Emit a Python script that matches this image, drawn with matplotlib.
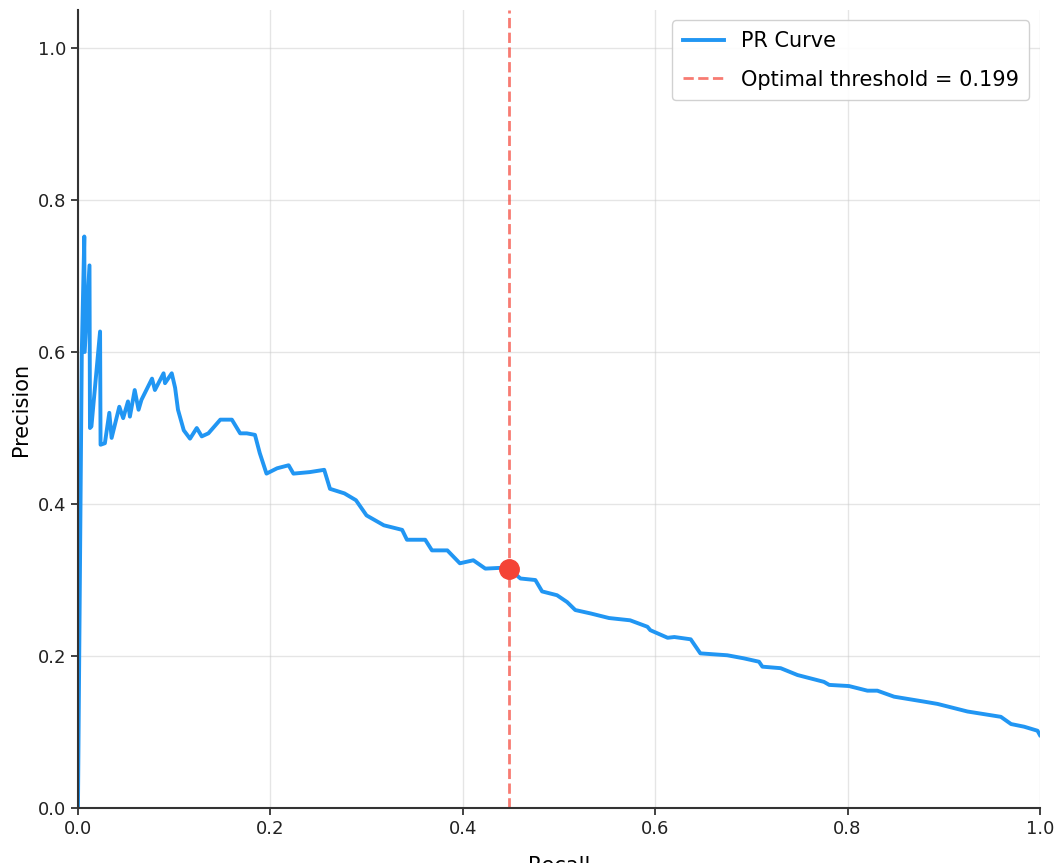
import matplotlib
matplotlib.use("Agg")
import matplotlib.pyplot as plt

# PR curve (recall, precision)
recall = [0.0, 0.003, 0.004, 0.0066, 0.007, 0.012, 0.0125, 0.014, 0.023, 0.0235,
          0.028, 0.0326, 0.035, 0.043, 0.047, 0.052, 0.054, 0.059, 0.063, 0.066,
          0.077, 0.080, 0.089, 0.0905, 0.0975, 0.101, 0.104, 0.110, 0.1165, 0.1235,
          0.1287, 0.1356, 0.148, 0.160, 0.1686, 0.1755, 0.184, 0.189, 0.196, 0.207,
          0.219, 0.224, 0.241, 0.256, 0.262, 0.277, 0.289, 0.300, 0.318, 0.337,
          0.342, 0.361, 0.368, 0.384, 0.397, 0.411, 0.4235, 0.439, 0.448, 0.460,
          0.4755, 0.4825, 0.498, 0.5085, 0.517, 0.533, 0.552, 0.574, 0.592, 0.595,
          0.613, 0.620, 0.637, 0.647, 0.675, 0.692, 0.708, 0.7115, 0.7305, 0.748,
          0.7755, 0.781, 0.8015, 0.8207, 0.831, 0.8484, 0.8796, 0.8935, 0.9247, 0.9594,
          0.970, 0.9836, 0.9975, 1.0]
precision = [0.0, 0.45, 0.60, 0.752, 0.600, 0.714, 0.500, 0.502, 0.627, 0.478,
             0.480, 0.520, 0.487, 0.528, 0.513, 0.535, 0.515, 0.550, 0.524, 0.537,
             0.565, 0.550, 0.572, 0.559, 0.572, 0.553, 0.524, 0.497, 0.486, 0.500,
             0.489, 0.493, 0.511, 0.511, 0.493, 0.493, 0.491, 0.467, 0.440, 0.447,
             0.451, 0.440, 0.442, 0.445, 0.420, 0.414, 0.405, 0.385, 0.372, 0.366,
             0.353, 0.353, 0.339, 0.339, 0.322, 0.326, 0.315, 0.316, 0.315, 0.302,
             0.300, 0.285, 0.280, 0.271, 0.2605, 0.256, 0.250, 0.247, 0.2385, 0.234,
             0.224, 0.225, 0.222, 0.2035, 0.201, 0.197, 0.1925, 0.186, 0.184, 0.175,
             0.166, 0.162, 0.1605, 0.1544, 0.1544, 0.1465, 0.140, 0.137, 0.127, 0.120,
             0.1105, 0.107, 0.1017, 0.096]

best_threshold = 0.199
best_recall = 0.448
best_precision = 0.315

fig = plt.figure(figsize=(10.62, 8.63), dpi=100)
ax = fig.add_axes([0.0734, 0.0637, 0.9058, 0.9247])

ax.plot(recall, precision, color="#2196F3", lw=2.8, label="PR Curve")
ax.axvline(best_recall, color="#F44336", ls="--", lw=2, alpha=0.7,
           label=f"Optimal threshold = {best_threshold:.3f}")
ax.plot([best_recall], [best_precision], "o", color="#F44336", ms=14, zorder=5)

ax.set_xlim(0, 1)
ax.set_ylim(0, 1.05)
# the reference crops the x label at the bottom edge
ax.set_xlabel("Recall", fontsize=15, labelpad=13)
ax.set_ylabel("Precision", fontsize=15, labelpad=5)
ax.tick_params(labelsize=13, length=5, width=1.3, colors="#333333")
ax.tick_params(labelcolor="#222222")
ax.grid(True, color="#cccccc", alpha=0.5, lw=1)
for side in ["top", "right"]:
    ax.spines[side].set_visible(False)
for side in ["left", "bottom"]:
    ax.spines[side].set_linewidth(1.5)
    ax.spines[side].set_color("#333333")

ax.legend(loc="upper right", fontsize=15, framealpha=0.9, edgecolor="#cccccc",
          labelspacing=0.9, borderpad=0.5)

fig.savefig("out.png", dpi=100)
